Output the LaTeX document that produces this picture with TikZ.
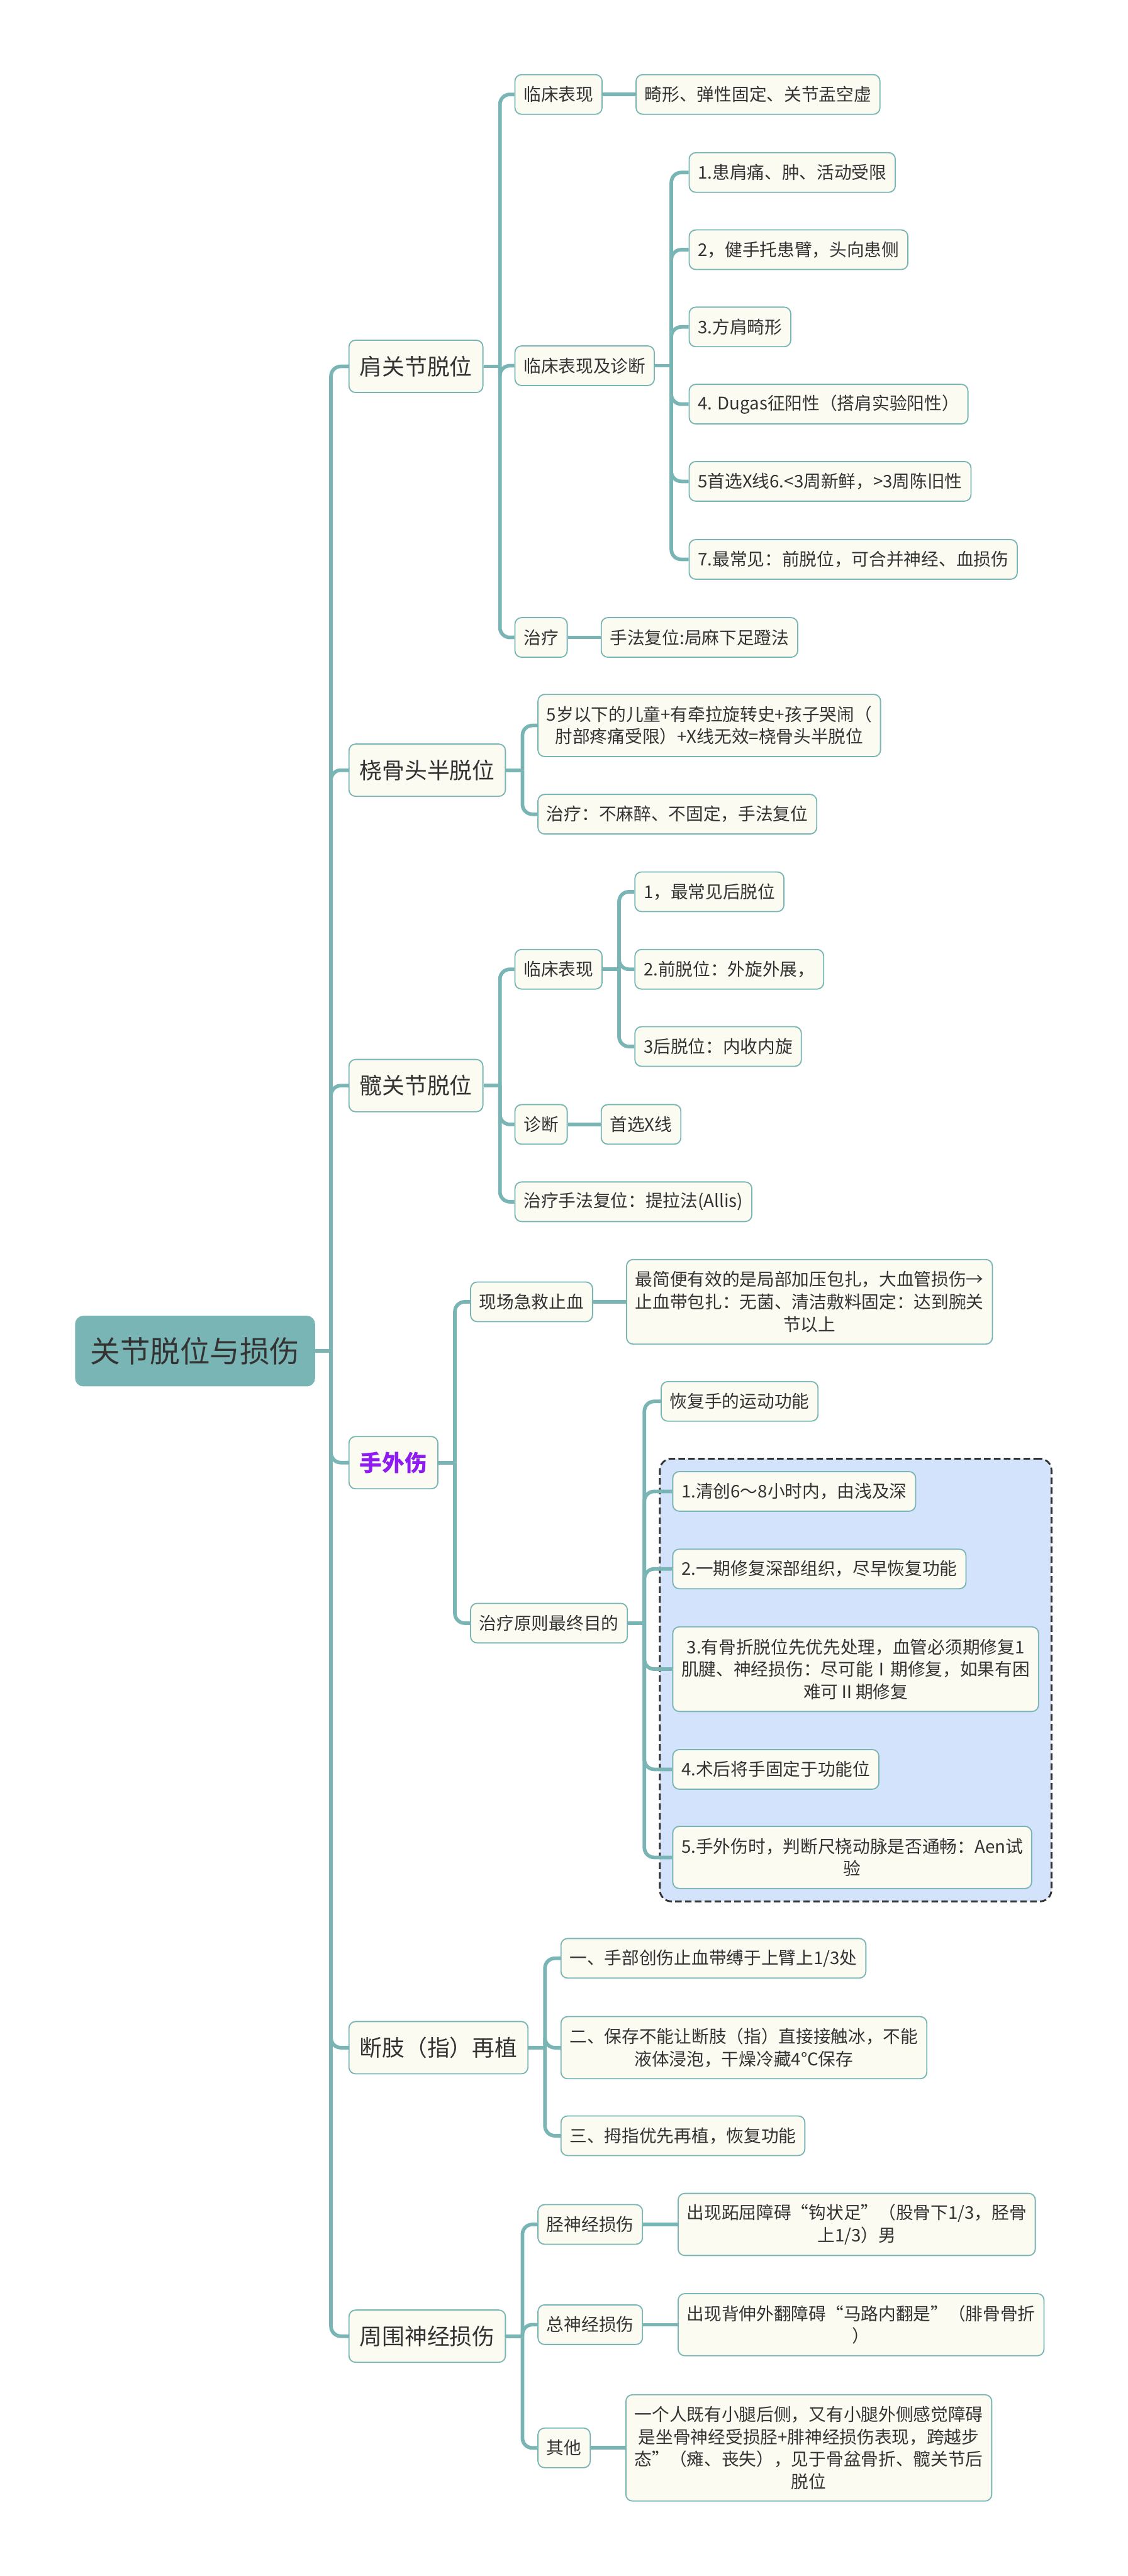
\documentclass[tikz,border=0pt]{standalone}
\usepackage{fontspec}
\setmainfont{Noto Sans CJK SC}
\usetikzlibrary{positioning,fit,backgrounds}
\definecolor{branch}{HTML}{7AB5B6}
\definecolor{cream}{HTML}{FCFBF2}
\definecolor{ink}{HTML}{333333}
\definecolor{handpurple}{HTML}{8E1CF0}
\definecolor{paleblue}{HTML}{D4E3FC}

\begin{document}
\begin{tikzpicture}[x=1pt,y=-1pt,
  root/.style={fill=branch,rounded corners=5pt,minimum width=146pt,minimum height=43pt,
    font=\fontsize{18.2}{22}\selectfont,text=ink,anchor=west},
  topic/.style={draw=branch,fill=cream,line width=0.7pt,rounded corners=4pt,inner xsep=6.5pt,
    minimum height=31.8pt,font=\fontsize{13.7}{16}\selectfont,text=ink,anchor=west},
  leaf/.style={draw=branch,fill=cream,line width=0.7pt,rounded corners=4pt,inner xsep=5.3pt,
    inner ysep=2pt,minimum height=24.1pt,font=\fontsize{10.6}{13.6}\selectfont,text=ink,
    anchor=west,align=center},
  lines2/.style={minimum height=37.8pt},
  lines3/.style={minimum height=51.5pt},
  lines4/.style={minimum height=64.7pt},
  link/.style={draw=branch,line width=2.2pt,rounded corners=6pt},
  dashgroup/.style={draw=ink,dash pattern=on 4pt off 2pt,line width=1.1pt,fill=paleblue,
    rounded corners=7pt,inner sep=7.5pt}]
\useasboundingbox (0,0) rectangle (686,1568);

\node[root] (main) at (45.5,822.4) {关节脱位与损伤};

\node[topic] (shoulder) at (212,223) {肩关节脱位};
\node[topic] (radial) at (212,468.8) {桡骨头半脱位};
\node[topic] (hip) at (212,660.8) {髋关节脱位};
\node[topic,text=handpurple,font=\fontsize{13.7}{16}\selectfont\bfseries] (hand) at (212,890.3) {手外伤};
\node[topic] (replant) at (212,1246.4) {断肢（指）再植};
\node[topic] (nerve) at (212,1422) {周围神经损伤};

\node[leaf] (s1) at (313,57.5) {临床表现};
\node[leaf,right=20pt of s1] (s1x) {畸形、弹性固定、关节盂空虚};
\node[leaf] (s2) at (313,222.6) {临床表现及诊断};
\node[leaf] (d1) at (419,105) {1.患肩痛、肿、活动受限};
\node[leaf] (d2) at (419,152) {2，健手托患臂，头向患侧};
\node[leaf] (d3) at (419,199) {3.方肩畸形};
\node[leaf] (d4) at (419,246) {4. Dugas征阳性（搭肩实验阳性）};
\node[leaf] (d5) at (419,293) {5首选X线6.<3周新鲜，>3周陈旧性};
\node[leaf] (d6) at (419,340.5) {7.最常见：前脱位，可合并神经、血损伤};
\node[leaf] (s3) at (313,388) {治疗};
\node[leaf,right=20pt of s3] (s3x) {手法复位:局麻下足蹬法};

\node[leaf,lines2] (r1) at (327,441.6) {5岁以下的儿童+有牵拉旋转史+孩子哭闹（\\肘部疼痛受限）+X线无效=桡骨头半脱位};
\node[leaf] (r2) at (327,495.6) {治疗：不麻醉、不固定，手法复位};

\node[leaf] (h1) at (313,590) {临床表现};
\node[leaf] (c1) at (386,542.8) {1，最常见后脱位};
\node[leaf] (c2) at (386,590) {2.前脱位：外旋外展，};
\node[leaf] (c3) at (386,637) {3后脱位：内收内旋};
\node[leaf] (h2) at (313,684.4) {诊断};
\node[leaf,right=20pt of h2] (h2x) {首选X线};
\node[leaf] (h3) at (313,731.5) {治疗手法复位：提拉法(Allis)};

\node[leaf] (k1) at (286,792.4) {现场急救止血};
\node[leaf,lines3,right=20pt of k1] (k1x) {最简便有效的是局部加压包扎，大血管损伤→\\止血带包扎：无菌、清洁敷料固定：达到腕关\\节以上};
\node[leaf] (k2) at (286,988) {治疗原则最终目的};
\node[leaf] (k2x) at (402,853) {恢复手的运动功能};
\node[leaf] (g1) at (409,907.8) {1.清创6～8小时内，由浅及深};
\node[leaf] (g2) at (409,955) {2.一期修复深部组织，尽早恢复功能};
\node[leaf,lines3] (g3) at (409,1016) {3.有骨折脱位先优先处理，血管必须期修复1\\肌腱、神经损伤：尽可能Ⅰ期修复，如果有困\\难可Ⅱ期修复};
\node[leaf] (g4) at (409,1077) {4.术后将手固定于功能位};
\node[leaf,lines2] (g5) at (409,1130.6) {5.手外伤时，判断尺桡动脉是否通畅：Aen试\\验};

\node[leaf] (p1) at (341,1192) {一、手部创伤止血带缚于上臂上1/3处};
\node[leaf,lines2] (p2) at (341,1246.4) {二、保存不能让断肢（指）直接接触冰，不能\\液体浸泡，干燥冷藏4°C保存};
\node[leaf] (p3) at (341,1300) {三、拇指优先再植，恢复功能};

\node[leaf] (n1) at (327,1354) {胫神经损伤};
\node[leaf,lines2,right=21pt of n1] (n1x) {出现跖屈障碍“钩状足”（股骨下1/3，胫骨\\上1/3）男};
\node[leaf] (n2) at (327,1415) {总神经损伤};
\node[leaf,lines2,right=21pt of n2] (n2x) {出现背伸外翻障碍“马路内翻是”（腓骨骨折\\）};
\node[leaf] (n3) at (327,1490) {其他};
\node[leaf,lines4,right=21pt of n3] (n3x) {一个人既有小腿后侧，又有小腿外侧感觉障碍\\是坐骨神经受损胫+腓神经损伤表现，跨越步\\态”（瘫、丧失），见于骨盆骨折、髋关节后\\脱位};

\begin{scope}[on background layer]
\node[dashgroup,fit=(g1)(g2)(g3)(g4)(g5)] (aims) {};
\draw[link] (main.east) -- ++(9.5,0) coordinate (trunk);
\foreach \t in {shoulder,radial,hip,hand,replant,nerve}
  \draw[link] (trunk) |- (\t.west);
\draw[link] (shoulder.east) -- ++(10,0) coordinate (sbus);
\foreach \c in {s1,s2,s3}
  \draw[link] (sbus) |- (\c.west);
\draw[link] (s1.east) -- (s1x.west);
\draw[link] (s2.east) -- ++(10,0) coordinate (dbus);
\foreach \c in {d1,d2,d3,d4,d5,d6}
  \draw[link] (dbus) |- (\c.west);
\draw[link] (s3.east) -- (s3x.west);
\draw[link] (radial.east) -- ++(10,0) coordinate (rbus);
\foreach \c in {r1,r2}
  \draw[link] (rbus) |- (\c.west);
\draw[link] (hip.east) -- ++(10,0) coordinate (hbus);
\foreach \c in {h1,h2,h3}
  \draw[link] (hbus) |- (\c.west);
\draw[link] (h1.east) -- ++(10,0) coordinate (cbus);
\foreach \c in {c1,c2,c3}
  \draw[link] (cbus) |- (\c.west);
\draw[link] (h2.east) -- (h2x.west);
\draw[link] (hand.east) -- ++(10,0) coordinate (kbus);
\foreach \c in {k1,k2}
  \draw[link] (kbus) |- (\c.west);
\draw[link] (k1.east) -- (k1x.west);
\draw[link] (k2.east) -- ++(10,0) coordinate (gbus);
\foreach \c in {k2x,g1,g2,g3,g4,g5}
  \draw[link] (gbus) |- (\c.west);
\draw[link] (replant.east) -- ++(10,0) coordinate (pbus);
\foreach \c in {p1,p2,p3}
  \draw[link] (pbus) |- (\c.west);
\draw[link] (nerve.east) -- ++(10,0) coordinate (nbus);
\foreach \c in {n1,n2,n3}
  \draw[link] (nbus) |- (\c.west);
\draw[link] (n1.east) -- (n1x.west);
\draw[link] (n2.east) -- (n2x.west);
\draw[link] (n3.east) -- (n3x.west);
\end{scope}
\end{tikzpicture}
\end{document}
